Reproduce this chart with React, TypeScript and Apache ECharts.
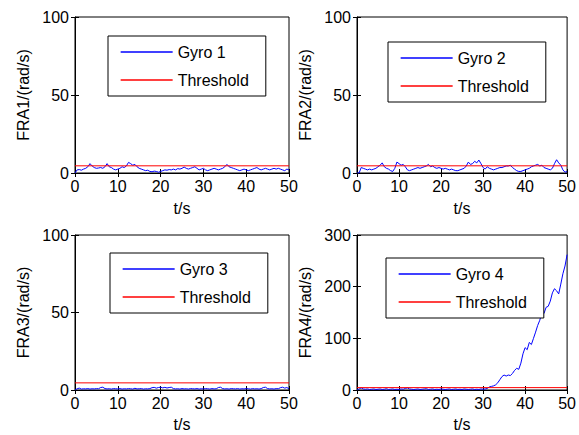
import React, { useEffect, useRef } from "react";
import * as echarts from "echarts";

const timeStep = 0.5;
const threshold = 4.6;

const gyro1 = [
  0, 2, 2.2, 1.8, 2.5, 3, 4, 6, 4.5, 3.5, 3, 3.2, 3.5, 3, 4, 6, 4, 3.5, 2.5, 2,
  2.5, 3, 4, 3.5, 4.5, 6.8, 6, 5, 5.5, 4, 3, 2.5, 2, 1.5, 1.8, 1, 0.8, 1.2, 1, 0.5,
  1, 1.5, 2, 1.8, 2.2, 2, 2.5, 2, 2.8, 2.5, 3, 3.8, 3, 2.5, 3, 3.5, 4, 3, 2, 2.5,
  3, 2, 1.5, 2, 2.5, 3, 2.5, 2, 2.5, 3, 4, 5.5, 4, 3.5, 3, 2.5, 2, 1.5, 2, 2.5,
  2, 1.5, 2, 2.5, 3, 3.5, 2.5, 2, 2.5, 3, 2.5, 2, 2.5, 3, 2.5, 3, 2.5, 2, 1.5, 2.5,
  2,
];

const gyro2 = [
  0, 0, 3.5, 3, 2.5, 2, 2.5, 2, 2.5, 3, 4, 5, 6.5, 4, 3, 2.5, 1.5, 1, 3, 7,
  6, 5, 5.5, 4, 2, 1.5, 2, 2.5, 3, 3.5, 3, 3.5, 4, 4.5, 5.5, 4, 4.5, 3.5, 3, 3.5,
  3, 2.5, 3, 2.5, 2, 2.5, 2, 1.5, 1.5, 2, 2.5, 3, 4.5, 7, 5.5, 6, 7.5, 6.5, 8.3, 6,
  3.5, 2.5, 4, 3, 2.5, 2, 2.5, 3, 3.5, 3.5, 4, 4.5, 4.5, 5, 3.5, 2.5, 1.5, 1, 1, 1.5,
  2, 2.5, 3, 4, 4.5, 5, 5.5, 4.5, 5, 3.5, 3, 2.5, 2, 3, 6, 8.5, 6.5, 5, 2, 0.5,
  1,
];

const gyro3 = [
  0, 0.8, 1.2, 0.6, 0.8, 0.7, 0.9, 0.6, 0.8, 0.7, 0.9, 0.8, 1.6, 1.8, 0.9, 0.7, 0.8, 0.6, 0.9, 0.8,
  0.7, 0.9, 0.6, 0.8, 0.7, 0.9, 0.8, 0.6, 1.1, 0.7, 0.8, 0.9, 0.6, 0.8, 0.7, 0.9, 1.5, 1.7, 1.2, 1.6,
  1.8, 1.4, 1.7, 1.3, 1.6, 1.8, 0.9, 0.7, 0.8, 0.6, 0.9, 0.7, 0.8, 0.6, 0.9, 0.8, 0.7, 0.9, 0.6, 0.8,
  0.7, 0.9, 0.8, 0.6, 0.9, 0.7, 0.8, 1.6, 1.8, 0.9, 0.7, 0.8, 0.6, 0.9, 0.8, 0.7, 0.9, 0.6, 0.8, 0.7,
  0.9, 0.8, 0.6, 0.9, 0.7, 0.8, 0.6, 0.9, 1.6, 1.8, 0.9, 0.7, 0.8, 0.6, 0.9, 0.8, 1.5, 1.8, 1.2, 1.6,
  0.8,
];

const gyro4 = [
  0, 2, 4, 2, 1.5, 2, 1, 1.5, 2, 1, 1.5, 2, 1, 1.5, 2.5, 1, 1.5, 2, 1, 1.5,
  1, 2, 1.5, 3, 4, 2, 1.5, 1, 1.5, 2, 1, 1.5, 2, 2.5, 1, 1.5, 2, 1, 1.5, 1,
  2, 1.5, 1, 1.5, 2, 1, 1.5, 2, 1, 1.5, 1, 2, 1.5, 1, 1.5, 2, 1, 1.5, 1, 2,
  1.5, 2, 3, 6, 7, 8, 10, 14, 20, 26, 29, 27, 29, 28, 32, 38, 42, 40, 52, 70,
  82, 78, 92, 88, 100, 112, 125, 135, 150, 148, 160, 162, 172, 188, 196, 192, 186, 205, 225, 240,
  262,
];

const gyroNames = ["Gyro 1", "Gyro 2", "Gyro 3", "Gyro 4"];
const yNames = ["FRA1/(rad/s)", "FRA2/(rad/s)", "FRA3/(rad/s)", "FRA4/(rad/s)"];
const yMax = [100, 100, 100, 300];
const yInterval = [50, 50, 50, 100];
const xName = "t/s";

const gyroData = [gyro1, gyro2, gyro3, gyro4];

const FONT = "Liberation Sans, Arial, Helvetica, sans-serif";

export default function App() {
  const ref = useRef<HTMLDivElement>(null);
  useEffect(() => {
    if (!ref.current) return;
    const chart = echarts.init(ref.current, undefined, { renderer: "svg" });

    const grids = [
      { left: 75, top: 17, width: 214, height: 156 },
      { left: 357, top: 17, width: 214, height: 156 },
      { left: 75, top: 235, width: 214, height: 155 },
      { left: 357, top: 235, width: 214, height: 155 },
    ];
    const legendPos = [
      { left: 108, top: 36 },
      { left: 388, top: 42 },
      { left: 110, top: 253 },
      { left: 386, top: 258 },
    ];

    const xAxes: any[] = [];
    const yAxes: any[] = [];
    const series: any[] = [];
    const legends: any[] = [];

    grids.forEach((_, i) => {
      const tickStyle = { inside: true, length: 4, lineStyle: { color: "#000", width: 1 } };
      xAxes.push({
        type: "value",
        gridIndex: i,
        min: 0,
        max: 50,
        interval: 10,
        position: "bottom",
        name: xName,
        nameLocation: "middle",
        nameGap: i < 2 ? 27 : 26,
        nameTextStyle: { fontFamily: FONT, fontSize: 16, color: "#000" },
        axisLine: { show: true, lineStyle: { color: "#000", width: 1 } },
        axisTick: tickStyle,
        axisLabel: { fontFamily: FONT, fontSize: 16, color: "#000", margin: 5 },
        splitLine: { show: false },
      });
      xAxes.push({
        type: "value",
        gridIndex: i,
        min: 0,
        max: 50,
        interval: 10,
        position: "top",
        axisLine: { show: false },
        axisTick: tickStyle,
        axisLabel: { show: false },
        splitLine: { show: false },
      });
      yAxes.push({
        type: "value",
        gridIndex: i,
        min: 0,
        max: yMax[i],
        interval: yInterval[i],
        position: "left",
        name: yNames[i],
        nameLocation: "middle",
        nameGap: 44,
        nameTextStyle: { fontFamily: FONT, fontSize: 16, color: "#000" },
        axisLine: { show: true, lineStyle: { color: "#000", width: 1 } },
        axisTick: tickStyle,
        axisLabel: { fontFamily: FONT, fontSize: 16, color: "#000", margin: 6 },
        splitLine: { show: false },
      });
      yAxes.push({
        type: "value",
        gridIndex: i,
        min: 0,
        max: yMax[i],
        interval: yInterval[i],
        position: "right",
        axisLine: { show: false },
        axisTick: tickStyle,
        axisLabel: { show: false },
        splitLine: { show: false },
      });

      series.push({
        type: "line",
        name: gyroNames[i],
        xAxisIndex: i * 2,
        yAxisIndex: i * 2,
        data: gyroData[i].map((v, k) => [k * timeStep, v]),
        symbol: "none",
        lineStyle: { color: "#0000ff", width: 1 },
        itemStyle: { color: "#0000ff" },
        z: 2,
      });
      series.push({
        type: "line",
        name: "Threshold",
        xAxisIndex: i * 2,
        yAxisIndex: i * 2,
        data: [
          [0, threshold],
          [50, threshold],
        ],
        symbol: "none",
        lineStyle: { color: "#ff0000", width: 1 },
        itemStyle: { color: "#ff0000" },
        z: 3,
      });

      legends.push({
        data: [gyroNames[i], "Threshold"],
        orient: "vertical",
        left: legendPos[i].left,
        top: legendPos[i].top,
        padding: [8, 17, 8, 12],
        itemWidth: 52,
        itemHeight: 14,
        itemGap: 12,
        backgroundColor: "#fff",
        borderColor: "#000",
        borderWidth: 1,
        borderRadius: 0,
        selectedMode: false,
        itemStyle: { opacity: 0 },
        lineStyle: { width: 1.3, opacity: 1 },
        textStyle: { fontFamily: FONT, fontSize: 16, color: "#000" },
      });
    });

    chart.setOption({
      animation: false,
      backgroundColor: "#fff",
      grid: grids.map((g) => ({
        ...g,
        show: true,
        borderColor: "#000",
        borderWidth: 1,
        backgroundColor: "#fff",
      })),
      xAxis: xAxes,
      yAxis: yAxes,
      legend: legends,
      series,
    });

    return () => chart.dispose();
  }, []);

  return (
    <div
      ref={ref}
      style={{ position: "fixed", left: 0, top: 0, width: 579, height: 435 }}
    />
  );
}
